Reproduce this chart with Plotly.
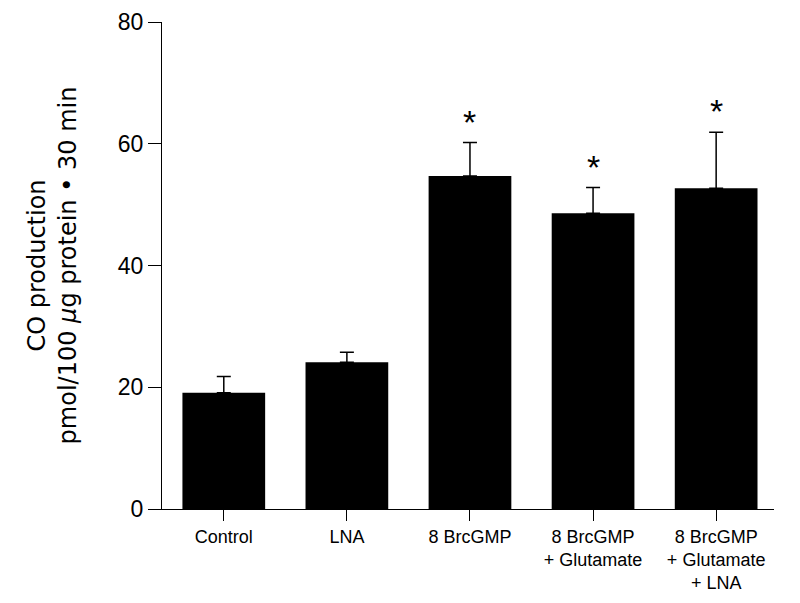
import plotly.graph_objects as go

categories = ["Control", "LNA", "8 BrcGMP", "8 BrcGMP<br>+ Glutamate", "8 BrcGMP<br>+ Glutamate<br>+ LNA"]
values = [19.1, 24.1, 54.7, 48.6, 52.7]
errors = [2.65, 1.65, 5.5, 4.2, 9.2]
significant = [False, False, True, True, True]
y_ticks = [0, 20, 40, 60, 80]

FONT = "Liberation Sans, Arial, Helvetica, sans-serif"
TITLE_FONT = "DejaVu Sans, Liberation Sans, Arial, sans-serif"

fig = go.Figure()
fig.add_trace(go.Bar(
    x=list(range(len(categories))),
    y=values,
    width=0.672,
    marker=dict(color="black", line=dict(width=0)),
    error_y=dict(type="data", array=errors, arrayminus=[0] * len(errors),
                 symmetric=False, color="black", thickness=1.5, width=7),
))

for i, (v, e, s) in enumerate(zip(values, errors, significant)):
    if s:
        fig.add_annotation(x=i, y=v + e, text="*", showarrow=False,
                           yanchor="bottom", yshift=0,
                           font=dict(family=FONT, size=34, color="black"))

fig.update_layout(
    width=800, height=603,
    margin=dict(l=154, r=34, t=14, b=102),
    paper_bgcolor="white", plot_bgcolor="white",
    showlegend=False,
    font=dict(family=FONT, color="black"),
)
fig.update_xaxes(
    range=[-0.502, 4.47],
    tickmode="array", tickvals=list(range(len(categories))), ticktext=categories,
    ticks="outside", ticklen=11, tickwidth=1, tickcolor="black",
    showline=True, linecolor="black", linewidth=1,
    tickfont=dict(size=18, family=FONT),
    showgrid=False, zeroline=False, automargin=False,
)
fig.update_yaxes(
    range=[0, 80],
    tickvals=y_ticks,
    ticks="outside", ticklen=13, tickwidth=1, tickcolor="black",
    showline=True, linecolor="black", linewidth=1,
    tickfont=dict(size=23, family=FONT),
    showgrid=False, zeroline=False, automargin=False,
    title=dict(text="CO production<br>pmol/100 <i>μ</i>g protein • 30 min",
               font=dict(size=24, family=TITLE_FONT), standoff=34),
)

fig.write_html("out.html")
